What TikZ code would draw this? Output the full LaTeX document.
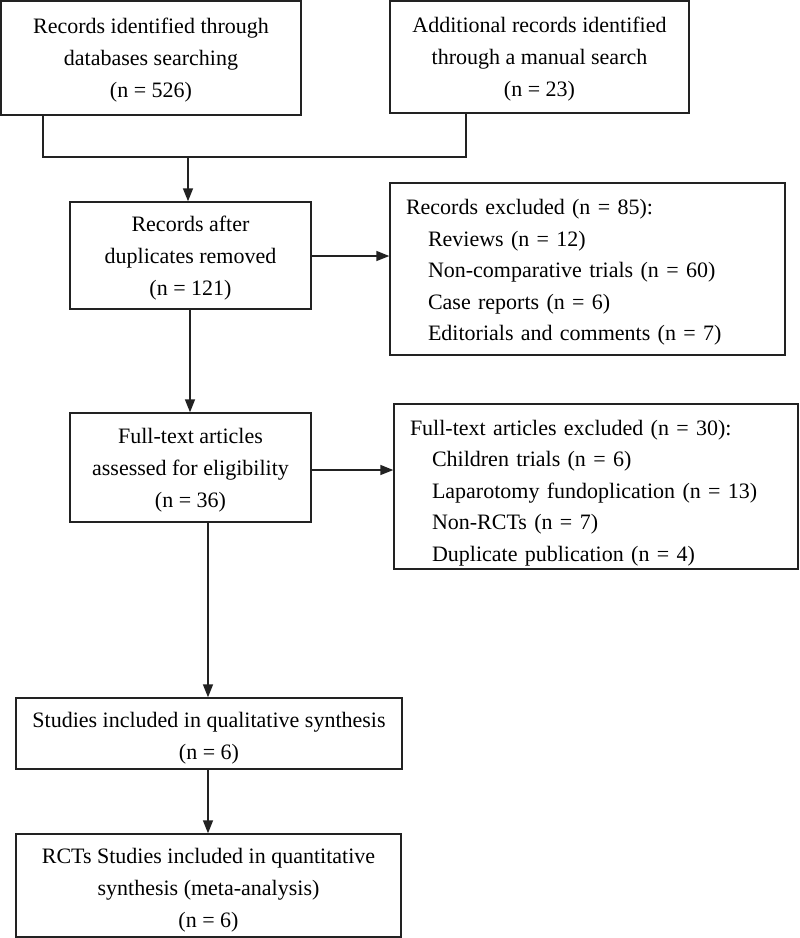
\documentclass[tikz,border=0pt]{standalone}
\usepackage{fontspec}
\setmainfont{Liberation Serif}
\usetikzlibrary{arrows.meta}
\definecolor{ln}{HTML}{222222}
\begin{document}
\begin{tikzpicture}[x=1pt,y=-1pt,
  box/.style={draw=ln, line width=1.4pt, inner sep=0pt, align=center,
    font=\fontsize{22}{32}\selectfont, text=black},
  listbox/.style={draw=ln, line width=1.4pt, inner xsep=16pt, inner ysep=0pt, align=left,
    font=\fontsize{22}{31.5}\selectfont, text=black},
  conn/.style={draw=ln, line width=1.4pt},
  arr/.style={conn, -{Triangle[length=13pt,width=10pt]}}]
\useasboundingbox (0,0) rectangle (800,938);
\fill[white] (0,0) rectangle (800,938);

\node[box, minimum width=300pt, minimum height=114pt] (b1) at (151,58)
  {\rule{0pt}{20pt}Records identified through\\databases searching\\(n = 526)};
\node[box, minimum width=299pt, minimum height=112pt] (b2) at (539.5,57)
  {\rule{0pt}{20pt}Additional records identified\\through a manual search\\(n = 23)};
\node[box, minimum width=241pt, minimum height=107pt] (b3) at (190.5,255.5)
  {\rule{0pt}{21pt}Records after\\duplicates removed\\(n = 121)};
\node[listbox, text width=363pt, minimum height=172pt] (b4) at (587.5,269)
  {\rule{0pt}{22pt}Records excluded (n = 85):\\
   \hspace*{22pt}Reviews (n = 12)\\
   \hspace*{22pt}Non-comparative trials (n = 60)\\
   \hspace*{22pt}Case reports (n = 6)\\
   \hspace*{22pt}Editorials and comments (n = 7)};
\node[box, minimum width=241pt, minimum height=109pt] (b5) at (190.5,467.5)
  {\rule{0pt}{20pt}Full-text articles\\assessed for eligibility\\(n = 36)};
\node[listbox, text width=372pt, minimum height=165pt] (b6) at (596,486.5)
  {\rule{0pt}{28pt}Full-text articles excluded (n = 30):\\
   \hspace*{22pt}Children trials (n = 6)\\
   \hspace*{22pt}Laparotomy fundoplication (n = 13)\\
   \hspace*{22pt}Non-RCTs (n = 7)\\
   \hspace*{22pt}Duplicate publication (n = 4)};
\node[box, minimum width=386pt, minimum height=71pt] (b7) at (209,733.5)
  {\rule{0pt}{24pt}Studies included in qualitative synthesis\\(n = 6)};
\node[box, minimum width=385pt, minimum height=103pt] (b8) at (208.5,885.5)
  {\rule{0pt}{24pt}RCTs Studies included in quantitative\\synthesis (meta-analysis)\\(n = 6)};

\coordinate (j1) at (43,157);
\coordinate (j2) at (466,157);
\coordinate (jm) at (188,157);
\draw[conn] (b1.south -| j1) -- (j1) -- (j2) -- (b2.south -| j2);
\draw[arr] (jm) -- (b3.north -| jm);
\draw[arr] (b3.east |- 0,256) -- (b4.west |- 0,256);
\draw[arr] (b3.south -| 190,0) -- (b5.north -| 190,0);
\draw[arr] (b5.east |- 0,470) -- (b6.west |- 0,470);
\draw[arr] (b5.south -| 208,0) -- (b7.north -| 208,0);
\draw[arr] (b7.south -| 208,0) -- (b8.north -| 208,0);
\end{tikzpicture}
\end{document}
